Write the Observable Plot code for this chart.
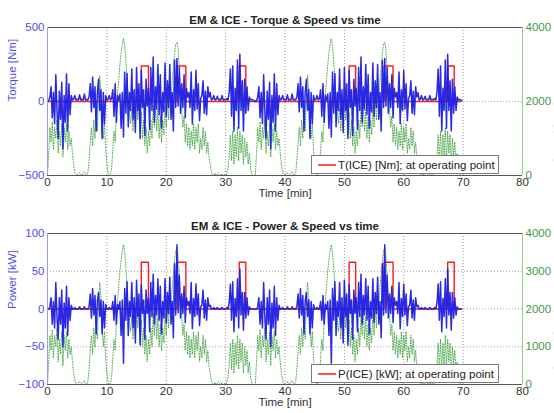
<!DOCTYPE html>
<html>
<head>
<meta charset="utf-8">
<script src="https://cdn.jsdelivr.net/npm/d3@7"></script>
<script src="https://cdn.jsdelivr.net/npm/@observablehq/plot@0.6"></script>
<style>
  html, body { margin: 0; padding: 0; background: #fff; }
  #wrap { position: relative; width: 554px; height: 413px; overflow: hidden; font-family: "Liberation Sans", Arial, sans-serif; }
  .legend { position: absolute; background: #fff; border: 1px solid #7a7a7a; font-size: 11.5px; color: #222; box-sizing: border-box; display: flex; align-items: center; white-space: nowrap; }
  .legend svg { margin: 0 2px 0 6px; }
</style>
</head>
<body>
<div id="wrap"></div>
<script>
// ---------- data (one drive cycle, sampled every 0.2 min; the cycle is run twice) ----------
const cycleStep = 0.2;          // min between samples
const cycleStarts = [0, 35];    // min, start of each repetition of the cycle

// EM torque [Nm]
const emTorque = [
  0, 5, 30, 100, -110, 60, -150, 180, -60, -250,
  70, -120, 130, -320, 40, -140, 185, -200, 120, -90,
  40, 10, 15, 40, 10, 15, 10, 45, 10, 15,
  10, 50, 10, 15, 10, 30, 120, -70, 165, -40,
  100, -200, 60, 150, -60, 80, -250, 60, -150, 40,
  10, 15, 40, 10, 20, 80, -100, 120, -140, 40,
  10, 50, -180, 60, -240, 200, -80, 190, -170, 60,
  -60, 220, -120, 80, -210, 230, -60, 120, -250, 210,
  -40, 80, -230, 150, -30, 90, -190, 230, -60, 300,
  -140, 100, -50, 250, -90, 180, -180, 60, -70, 260,
  -100, 140, -40, 250, -120, 60, -200, 280, -40, 290,
  -30, 230, -80, 120, -40, 180, -110, 90, 30, 60,
  -40, 200, -150, 80, -60, 210, -50, 120, -130, 20,
  40, 140, -80, 70, -90, 100, 30, 60, 10, 15,
  40, 10, 15, 35, 10, 15, 10, 40, 10, 15,
  10, 20, 10, 60, 220, -100, 240, -200, 90, -60,
  280, -180, 320, -60, 140, -200, 150, -80, 100, -60,
  30, 10, 15, 10, 5
];

// EM power [kW]
const emPower = [
  0, 0, 3, 15, -20, 10, -25, 35, -10, -40,
  15, -20, 25, -50, 8, -25, 30, -35, 15, -15,
  5, 0, 0, 2, 0, 0, 0, 3, 0, 0,
  0, 3, 0, 0, 0, 3, 20, -12, 27, -8,
  18, -33, 10, 22, -10, 12, -33, 10, -25, 6,
  0, 0, 2, 0, 0, 10, -15, 18, -20, 6,
  0, 10, -35, 12, -72, 27, -15, 36, -35, 10,
  -10, 35, -25, 15, -45, 38, -10, 20, -48, 32,
  -6, 12, -40, 25, -6, 15, -30, 35, -10, 46,
  -20, 18, -8, 40, -15, 30, -33, 10, -12, 40,
  -18, 22, -6, 42, -20, 10, -38, 60, -8, 85,
  -5, 45, -12, 20, -6, 30, -18, 15, 5, 10,
  -6, 35, -26, 14, -10, 33, -8, 20, -22, 3,
  5, 25, -12, 12, -15, 15, 3, 5, 0, 0,
  2, 0, 0, 2, 0, 0, 0, 2, 0, 0,
  0, 2, 0, 8, 33, -15, 36, -30, 14, -10,
  40, -25, 53, -8, 22, -28, 22, -12, 15, -8,
  3, 0, 0, 0, 0
];

// EM speed [rpm]
const emSpeed = [
  0, 600, 1300, 900, 1450, 700, 1300, 1000, 1500, 600,
  1200, 800, 1400, 500, 1300, 900, 1400, 700, 1200, 800,
  1000, 600, 300, 100, 30, 0, 50, 80, 20, 0,
  60, 100, 30, 0, 80, 400, 900, 1300, 800, 1500,
  1000, 1800, 1200, 2200, 2700, 2300, 1600, 1000, 1400, 700,
  300, 50, 0, 40, 200, 700, 1200, 900, 1700, 2200,
  2600, 3000, 3300, 3550, 3700, 3500, 3100, 2600, 2100, 1700,
  1400, 1800, 1200, 1900, 1300, 2100, 1500, 1900, 1100, 1700,
  1000, 1500, 800, 1300, 600, 1200, 800, 1500, 1000, 1900,
  1300, 2000, 1200, 1800, 1000, 1600, 900, 1500, 1100, 1900,
  1300, 2100, 1500, 2300, 2000, 2600, 2900, 3300, 3550, 3600,
  3400, 2900, 2300, 1800, 1300, 1600, 900, 1400, 800, 1300,
  700, 1200, 800, 1400, 700, 1300, 900, 1400, 600, 1000,
  700, 1300, 800, 1200, 600, 900, 500, 300, 100, 20,
  0, 60, 0, 40, 80, 20, 0, 50, 0, 30,
  0, 60, 200, 500, 1100, 400, 1200, 300, 1100, 500,
  1300, 400, 1200, 600, 1100, 300, 1000, 500, 900, 300,
  600, 200, 50, 0, 0
];

// ICE at operating point: on/off times [min] and levels
const iceOn  = [15.8, 21.8, 32.3, 50.8, 56.7, 67.4];
const iceOff = [17.0, 23.3, 33.4, 51.9, 58.2, 68.5];
const iceEnd = 69.6;
const iceTorque = 240;  // Nm
const icePower = 62;    // kW

// axes
const xTicks = [0, 10, 20, 30, 40, 50, 60, 70, 80];
const torqueTicks = [-500, 0, 500];
const powerTicks = [-100, -50, 0, 50, 100];
const speedTicksTop = [0, 2000, 4000];
const speedTicksBottom = [0, 1000, 2000, 3000, 4000];
const speedMax = 4000;

// ---------- build tables ----------
function cycleSeries(vals) {
  return cycleStarts.flatMap(s => vals.map((v, i) => ({t: +(s + i * cycleStep).toFixed(2), v})));
}
function iceSeries(level) {
  const pts = [{t: 0, v: 0}];
  iceOn.forEach((on, k) => {
    pts.push({t: on, v: 0}, {t: on, v: level}, {t: iceOff[k], v: level}, {t: iceOff[k], v: 0});
  });
  pts.push({t: iceEnd, v: 0});
  return pts;
}
const speedRows = cycleSeries(emSpeed);

const FONT = "Liberation Sans, Arial, Helvetica, sans-serif";
const BLUE = "#1e1ee0", RED = "#ff1a1a", GREEN = "#2f9a2f";
const BLUE_TXT = "#4f4fef", GREEN_TXT = "#3f9a3f";

function chart({height, marginBottom, yDomain, yTicks, gridY, speedTicks, em, ice, title, ylabel}) {
  const [y0, y1] = yDomain;
  const toY = r => y0 + r / speedMax * (y1 - y0);
  const fromY = y => String(Math.round((y - y0) / (y1 - y0) * speedMax));
  return Plot.plot({
    width: 554, height, marginTop: 27, marginBottom, marginLeft: 47, marginRight: 32,
    style: {fontFamily: FONT, fontSize: "11px", background: "white", overflow: "visible"},
    x: {domain: [0, 80]},
    y: {domain: yDomain},
    marks: [
      Plot.gridX(xTicks.slice(1, -1), {stroke: "#8a8a8a", strokeOpacity: 0.9, strokeDasharray: "1,2"}),
      Plot.gridY(gridY, {stroke: "#8a8aa8", strokeOpacity: 0.8, strokeDasharray: "1,2"}),
      Plot.line(speedRows, {x: "t", y: d => toY(d.v), stroke: GREEN, strokeWidth: 1, strokeOpacity: 0.8, strokeDasharray: "1,1.6"}),
      Plot.line(ice, {x: "t", y: "v", stroke: RED, strokeWidth: 1.4}),
      Plot.line(em, {x: "t", y: "v", stroke: BLUE, strokeWidth: 1.5, strokeOpacity: 0.95}),
      Plot.ruleY([y1], {stroke: "#555"}),
      Plot.ruleY([y0], {stroke: "#555"}),
      Plot.ruleX([0], {stroke: "#9a9aff"}),
      Plot.ruleX([80], {stroke: "#8fd08f"}),
      Plot.axisX(xTicks, {tickSize: 0, tickPadding: 2, fill: "#333", fontSize: 11.5, label: null}),
      Plot.axisY(yTicks, {anchor: "left", tickSize: 0, tickPadding: 3, fill: BLUE_TXT, fontSize: 11.5, label: null}),
      Plot.axisY(speedTicks.map(toY), {anchor: "right", tickSize: 0, tickPadding: 3, fill: GREEN_TXT, fontSize: 11.5, tickFormat: fromY, label: null}),
      Plot.text([title], {frameAnchor: "top", dy: -12, fontWeight: "bold", fontSize: 11.5, fill: "#222"}),
      Plot.text(["Time [min]"], {frameAnchor: "bottom", dy: 21, fontSize: 11.5, fill: "#333"}),
      Plot.text([ylabel], {frameAnchor: "left", dx: -35, rotate: -90, fontSize: 11.5, fill: BLUE_TXT}),
      Plot.text(["Speed [rpm]"], {frameAnchor: "right", dx: 36, rotate: -90, fontSize: 11.5, fill: GREEN_TXT})
    ]
  });
}

const wrap = document.getElementById("wrap");
wrap.appendChild(chart({
  height: 206, marginBottom: 31, yDomain: [-500, 500], yTicks: torqueTicks, gridY: [0],
  speedTicks: speedTicksTop, em: cycleSeries(emTorque), ice: iceSeries(iceTorque),
  title: "EM & ICE - Torque & Speed vs time", ylabel: "Torque [Nm]"
}));
wrap.appendChild(chart({
  height: 207, marginBottom: 29, yDomain: [-100, 100], yTicks: powerTicks, gridY: [-50, 0, 50],
  speedTicks: speedTicksBottom, em: cycleSeries(emPower), ice: iceSeries(icePower),
  title: "EM & ICE - Power & Speed vs time", ylabel: "Power [kW]"
}));

function legend(top, label) {
  const d = document.createElement("div");
  d.className = "legend";
  Object.assign(d.style, {left: "311px", top: top + "px", width: "188px", height: "19px"});
  d.innerHTML = '<svg width="18" height="4"><line x1="0" y1="2" x2="18" y2="2" stroke="#ff1a1a" stroke-width="1.5"/></svg><span>' + label + '</span>';
  wrap.appendChild(d);
}
legend(155, "T(ICE) [Nm]; at operating point");
legend(364, "P(ICE) [kW]; at operating point");
wrap.querySelectorAll("#wrap > svg").forEach(s => { s.style.display = "block"; });
</script>
</body>
</html>
